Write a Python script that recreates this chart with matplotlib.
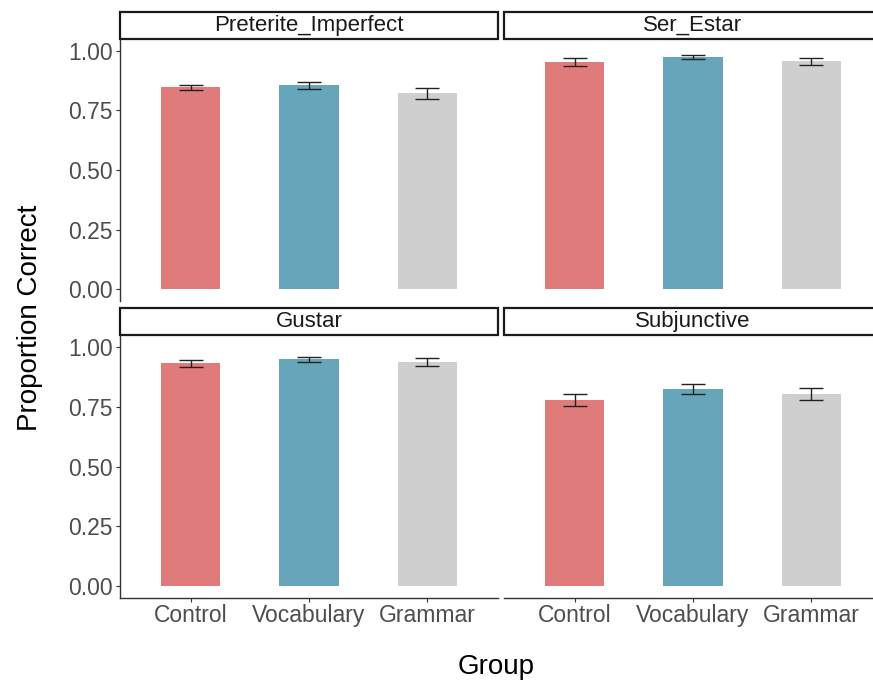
import matplotlib
matplotlib.use("Agg")
from matplotlib import pyplot as plt
from matplotlib.patches import Rectangle

plt.rcParams['font.family'] = ['Liberation Sans', 'DejaVu Sans']

# data
groups = ['Control', 'Vocabulary', 'Grammar']
facets = ['Preterite_Imperfect', 'Ser_Estar', 'Gustar', 'Subjunctive']
means = {
    'Preterite_Imperfect': [0.847, 0.856, 0.822],
    'Ser_Estar': [0.954, 0.974, 0.957],
    'Gustar': [0.932, 0.949, 0.937],
    'Subjunctive': [0.780, 0.825, 0.803],
}
errs = {
    'Preterite_Imperfect': [0.011, 0.014, 0.022],
    'Ser_Estar': [0.016, 0.008, 0.015],
    'Gustar': [0.015, 0.011, 0.015],
    'Subjunctive': [0.025, 0.020, 0.026],
}
colors = ['#E07B7B', '#66A5BA', '#CFCFCF']
yticks = [0.0, 0.25, 0.5, 0.75, 1.0]

W, H = 873, 681
fig = plt.figure(figsize=(W / 100, H / 100), dpi=100)

def px_axes(x0, y0, x1, y1):
    return fig.add_axes([x0 / W, 1 - y1 / H, (x1 - x0) / W, (y1 - y0) / H])

# panel boxes in pixels: (x0, y0, x1, y1)
panels = {
    'Preterite_Imperfect': (120, 39, 498, 301),
    'Ser_Estar': (504, 39, 882, 301),
    'Gustar': (120, 335, 498, 598),
    'Subjunctive': (504, 335, 882, 598),
}
strip_h = 27
tick_col = '#4D4D4D'

for i, name in enumerate(facets):
    x0, y0, x1, y1 = panels[name]
    ax = px_axes(x0, y0, x1, y1)
    xs = range(1, len(groups) + 1)
    ax.bar(xs, means[name], width=0.5, color=colors, zorder=2)
    ax.errorbar(xs, means[name], yerr=errs[name], fmt='none', ecolor='#222222',
                elinewidth=1.0, capsize=8.5, capthick=1.0, zorder=3)
    ax.set_xlim(0.4, 3.6)
    ax.set_ylim(-0.05, 1.05)
    for s in ['top', 'right']:
        ax.spines[s].set_visible(False)
    left_col = (i % 2 == 0)
    bottom_row = (i >= 2)
    ax.spines['left'].set_visible(left_col)
    ax.spines['bottom'].set_visible(bottom_row)
    for s in ['left', 'bottom']:
        ax.spines[s].set_color('#333333')
        ax.spines[s].set_linewidth(1.0)
    ax.set_yticks(yticks)
    if left_col:
        ax.set_yticklabels(['%.2f' % v for v in yticks], fontsize=16.5, color=tick_col)
        ax.tick_params(axis='y', length=3, color='#333333', pad=2)
    else:
        ax.tick_params(axis='y', left=False, labelleft=False)
    ax.set_xticks(list(xs))
    if bottom_row:
        ax.set_xticklabels(groups, fontsize=16.5, color=tick_col)
        ax.tick_params(axis='x', length=3, color='#333333', pad=1)
    else:
        ax.tick_params(axis='x', bottom=False, labelbottom=False)
    ax.patch.set_alpha(0)

    # facet strip
    sax = px_axes(x0, y0 - strip_h, x1, y0)
    sax.set_xlim(0, 1)
    sax.set_ylim(0, 1)
    sax.axis('off')
    sax.add_patch(Rectangle((0, 0), 1, 1, transform=sax.transAxes, facecolor='white',
                            edgecolor='#1A1A1A', linewidth=1.6, clip_on=False))
    sax.text(0.5, 0.5, name, ha='center', va='center', fontsize=16, color='#1A1A1A')

fig.text(30 / W, 1 - 318 / H, 'Proportion Correct', rotation=90, ha='center', va='center',
         fontsize=20, color='black')
fig.text(496 / W, 1 - 667 / H, 'Group', ha='center', va='center', fontsize=20, color='black')

fig.savefig('out.png', dpi=100)
